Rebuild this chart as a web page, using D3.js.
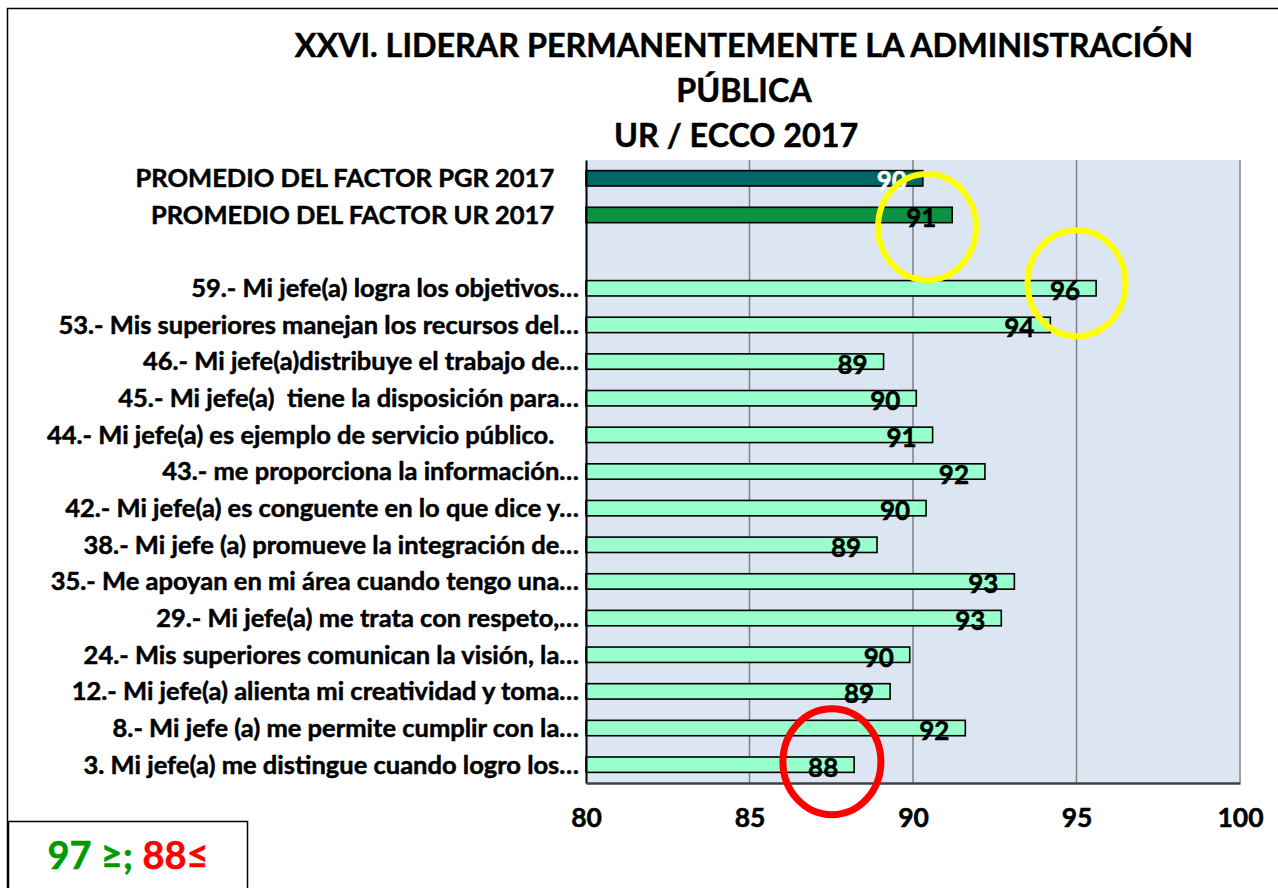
<!DOCTYPE html>
<html lang="es">
<head>
<meta charset="utf-8">
<title>XXVI. Liderar permanentemente la Administración Pública</title>
<script src="https://cdn.jsdelivr.net/npm/d3@7"></script>
<style>
  html, body { margin: 0; padding: 0; background: #ffffff; }
  svg { display: block; }
  text { font-family: Lato, "Open Sans", "DejaVu Sans", sans-serif; font-weight: 700; white-space: pre; }
</style>
</head>
<body>
<svg id="chart" width="1278" height="888"></svg>
<script>
// ---- data ----------------------------------------------------------------
const titleLines = [
  "XXVI. LIDERAR PERMANENTEMENTE LA ADMINISTRACIÓN",
  "PÚBLICA",
  "UR / ECCO 2017  "
];

// top to bottom; the empty entry is a spacer row between averages and items
const categories = [
  "PROMEDIO DEL FACTOR PGR 2017    ",
  "PROMEDIO DEL FACTOR UR 2017    ",
  "",
  "59.- Mi jefe(a) logra los objetivos…",
  "53.- Mis superiores manejan los recursos del…",
  "46.- Mi jefe(a)distribuye el trabajo de…",
  "45.- Mi jefe(a)  tiene la disposición para…",
  "44.- Mi jefe(a) es ejemplo de servicio público.    ",
  "43.- me proporciona la información…",
  "42.- Mi jefe(a) es conguente en lo que dice y…",
  "38.- Mi jefe (a) promueve la integración de…",
  "35.- Me apoyan en mi área cuando tengo una…",
  "29.- Mi jefe(a) me trata con respeto,…",
  "24.- Mis superiores comunican la visión, la…",
  "12.- Mi jefe(a) alienta mi creatividad y toma…",
  "8.- Mi jefe (a) me permite cumplir con la…",
  "3. Mi jefe(a) me distingue cuando logro los…"
];

const values = [
  90.3, 91.2, null,
  95.6, 94.2, 89.1, 90.1, 90.6, 92.2, 90.4, 88.9, 93.1, 92.7, 89.9, 89.3, 91.6, 88.2
];

const xTicks = [80, 85, 90, 95, 100];
const xDomain = [80, 100];

// highlighted results: value on the x axis and the row they sit on
const highlightValues = [90.43, 95.0, 87.52];
const highlightRows = [1, 3, 16];
const highlightRowShift = [0.33, -0.14, -0.08];

const legendHigh = "97 ≥; ";
const legendLow = "88≤";

// ---- layout --------------------------------------------------------------
const svg = d3.select("#chart");
const plot = { left: 586, right: 1240, top: 160, bottom: 783 };

const x = d3.scaleLinear().domain(xDomain).range([plot.left, plot.right]);
const y = d3.scaleBand()
  .domain(categories)
  .range([plot.top, plot.bottom])
  .paddingInner(0.58)
  .paddingOuter(0.29);

const barFill = d3.scaleOrdinal()
  .domain([categories[0], categories[1]])
  .range(["#006666", "#0E9140"])
  .unknown("#99FFCC");
const labelFill = d3.scaleOrdinal()
  .domain([categories[0]])
  .range(["#ffffff"])
  .unknown("#000000");

const rows = categories.map((c, i) => ({ cat: c, value: values[i] }));

// heavier strokes on bold text
function embolden(sel, color) {
  sel.attr("stroke", color).attr("stroke-width", 0.5).attr("paint-order", "stroke");
}

// outer chart frame
svg.append("rect")
  .attr("x", 7.5).attr("y", 8.5)
  .attr("width", 1320).attr("height", 920)
  .attr("fill", "none").attr("stroke", "#000").attr("stroke-width", 1.5);

// title
svg.append("g").selectAll("text")
  .data(titleLines)
  .join("text")
  .attr("x", 744)
  .attr("y", (d, i) => 57 + i * 45)
  .attr("text-anchor", "middle")
  .attr("font-size", 32.3)
  .attr("fill", "#000")
  .text(d => d)
  .call(embolden, "#000");

// plot background
svg.append("rect")
  .attr("x", plot.left).attr("y", plot.top)
  .attr("width", plot.right - plot.left).attr("height", plot.bottom - plot.top)
  .attr("fill", "#DCE6F2");

// vertical gridlines
svg.append("g").selectAll("line")
  .data(xTicks.slice(1, -1))
  .join("line")
  .attr("x1", d => x(d)).attr("x2", d => x(d))
  .attr("y1", plot.top).attr("y2", plot.bottom)
  .attr("stroke", "#808080").attr("stroke-width", 1.5);

// right edge of plot area
svg.append("line")
  .attr("x1", x(xDomain[1])).attr("x2", x(xDomain[1]))
  .attr("y1", plot.top).attr("y2", plot.bottom)
  .attr("stroke", "#A0A0A0").attr("stroke-width", 2);

// bars
svg.append("g").selectAll("rect")
  .data(rows.filter(d => d.value != null))
  .join("rect")
  .attr("x", x(xDomain[0]))
  .attr("y", d => y(d.cat))
  .attr("width", d => x(d.value) - x(xDomain[0]))
  .attr("height", y.bandwidth())
  .attr("fill", d => barFill(d.cat))
  .attr("stroke", "#000").attr("stroke-width", 1.6);

// value labels
svg.append("g").selectAll("text")
  .data(rows.filter(d => d.value != null))
  .join("text")
  .attr("x", d => x(d.value) - 31)
  .attr("y", d => y(d.cat) + y.bandwidth() / 2 + 2)
  .attr("text-anchor", "middle")
  .attr("dominant-baseline", "central")
  .attr("font-size", 26)
  .attr("fill", d => labelFill(d.cat))
  .text(d => d3.format(".0f")(d.value))
  .each(function (d) { d3.select(this).call(embolden, labelFill(d.cat)); });

// category axis
const yAxis = svg.append("g")
  .attr("transform", `translate(${plot.left},0)`)
  .call(d3.axisLeft(y).tickSize(0).tickPadding(7));
yAxis.select(".domain").attr("stroke", "#000").attr("stroke-width", 2);
yAxis.selectAll(".tick text")
  .attr("font-size", 25.5)
  .attr("font-family", "Lato, 'Open Sans', sans-serif")
  .attr("font-weight", 700)
  .attr("fill", "#000")
  .attr("dy", "0.35em")
  .call(embolden, "#000");

// value axis
const xAxis = svg.append("g")
  .attr("transform", `translate(0,${plot.bottom})`)
  .call(d3.axisBottom(x).tickValues(xTicks).tickSize(0).tickPadding(25).tickFormat(d3.format("d")));
xAxis.select(".domain").attr("stroke", "#404040").attr("stroke-width", 2.5);
xAxis.selectAll(".tick text")
  .attr("font-size", 26.5)
  .attr("font-family", "Lato, 'Open Sans', sans-serif")
  .attr("font-weight", 700)
  .attr("fill", "#000")
  .call(embolden, "#000");

// highlight rings
const ringColor = ["#FFFF00", "#FFFF00", "#FF0000"];
const ringWidth = [6, 6, 7];
svg.append("g").selectAll("ellipse")
  .data(highlightValues.map((v, i) => ({ v, row: highlightRows[i], shift: highlightRowShift[i], i })))
  .join("ellipse")
  .attr("cx", d => x(d.v))
  .attr("cy", d => y(categories[d.row]) + y.bandwidth() / 2 + d.shift * y.step())
  .attr("rx", 49)
  .attr("ry", 53)
  .attr("fill", "none")
  .attr("stroke", d => ringColor[d.i])
  .attr("stroke-width", d => ringWidth[d.i]);

// threshold legend box
svg.append("rect")
  .attr("x", 8.5).attr("y", 821.5)
  .attr("width", 239).attr("height", 90)
  .attr("fill", "#fff").attr("stroke", "#000").attr("stroke-width", 1.5);
const legendText = svg.append("text")
  .attr("x", 128).attr("y", 869)
  .attr("text-anchor", "middle")
  .attr("font-size", 38);
legendText.append("tspan").attr("fill", "#009900").attr("stroke", "#009900").attr("stroke-width", 0.5).text(legendHigh);
legendText.append("tspan").attr("fill", "#FF0000").attr("stroke", "#FF0000").attr("stroke-width", 0.5).text(legendLow);
</script>
</body>
</html>
